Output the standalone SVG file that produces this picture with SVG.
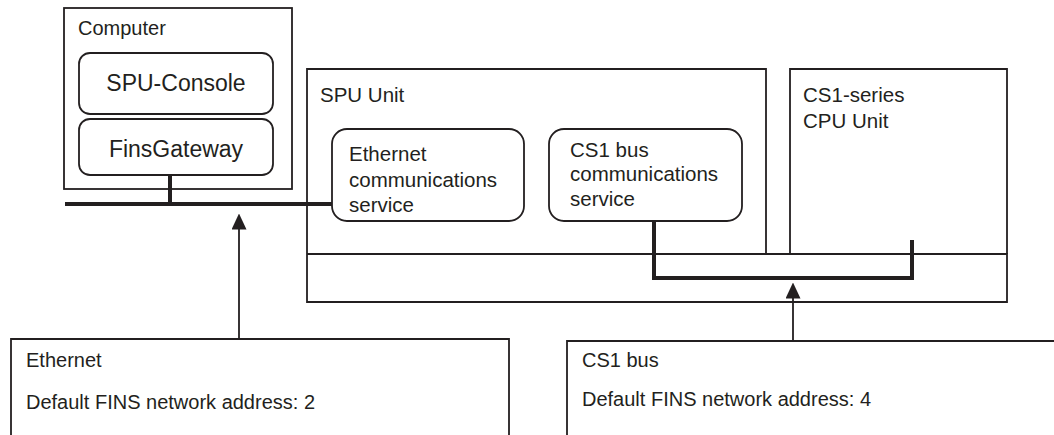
<svg xmlns="http://www.w3.org/2000/svg" width="1054" height="435" viewBox="0 0 1054 435">
<style>
.box{fill:none;stroke:#231f20;stroke-width:1.8}
.bus{fill:none;stroke:#231f20;stroke-width:4;stroke-linejoin:miter}
.arr{fill:none;stroke:#231f20;stroke-width:1.8}
text{font-family:"Liberation Sans",Arial,sans-serif;fill:#231f20}
.t20{font-size:20px}
.t21{font-size:20.5px}
.t23{font-size:23px}
</style>
<defs>
<marker id="ah" markerWidth="16" markerHeight="15" refX="0.5" refY="7.5" orient="auto" markerUnits="userSpaceOnUse" viewBox="0 0 16 15">
<path d="M0,0 L16,7.5 L0,15 Z" fill="#231f20"/>
</marker>
</defs>
<rect width="1054" height="435" fill="#fff"/>

<g id="computer">
<rect class="box" x="64" y="8" width="228" height="181"/>
<text class="t20" x="78" y="35">Computer</text>
</g>
<g id="spu-console">
<rect class="box" x="79" y="53" width="194" height="61" rx="11"/>
<text class="t23" x="176" y="91" text-anchor="middle">SPU-Console</text>
</g>
<g id="finsgateway">
<rect class="box" x="79" y="119" width="194" height="56" rx="11"/>
<text class="t23" x="176" y="157" text-anchor="middle">FinsGateway</text>
</g>

<g id="spu-unit">
<path class="box" d="M766,254 V69 H307 V302 H1007 V254 H307"/>
<text class="t21" x="320" y="102">SPU Unit</text>
</g>
<g id="cpu-unit">
<path class="box" d="M790,254 V69 H1007 V254"/>
<text class="t21" x="803" y="102">CS1-series</text>
<text class="t21" x="803" y="128">CPU Unit</text>
</g>
<g id="ethernet-service">
<rect class="box" x="332" y="129" width="192" height="92" rx="15"/>
<text class="t21" x="349" y="161">Ethernet</text>
<text class="t21" x="349" y="187">communications</text>
<text class="t21" x="349" y="212">service</text>
</g>
<g id="cs1-service">
<rect class="box" x="549" y="129" width="193" height="92" rx="15"/>
<text class="t21" x="570" y="157">CS1 bus</text>
<text class="t21" x="570" y="181">communications</text>
<text class="t21" x="570" y="206">service</text>
</g>

<g id="ethernet-box">
<path class="box" d="M11,435 V339 H509 V435"/>
<text class="t20" x="26" y="367">Ethernet</text>
<text class="t20" x="26" y="409">Default FINS network address: 2</text>
</g>
<g id="cs1bus-box">
<path class="box" d="M567,435 V341 H1055"/>
<text class="t20" x="582" y="367">CS1 bus</text>
<text class="t20" x="582" y="406">Default FINS network address: 4</text>
</g>

<g id="connectors">
<path class="bus" d="M65,204 H332"/>
<path class="bus" d="M170,175 V204"/>
<path class="bus" d="M654,221 V278 H912 V240"/>
<path class="arr" d="M239,339 V229" marker-end="url(#ah)"/>
<path class="arr" d="M793,341 V298" marker-end="url(#ah)"/>
</g>
</svg>
